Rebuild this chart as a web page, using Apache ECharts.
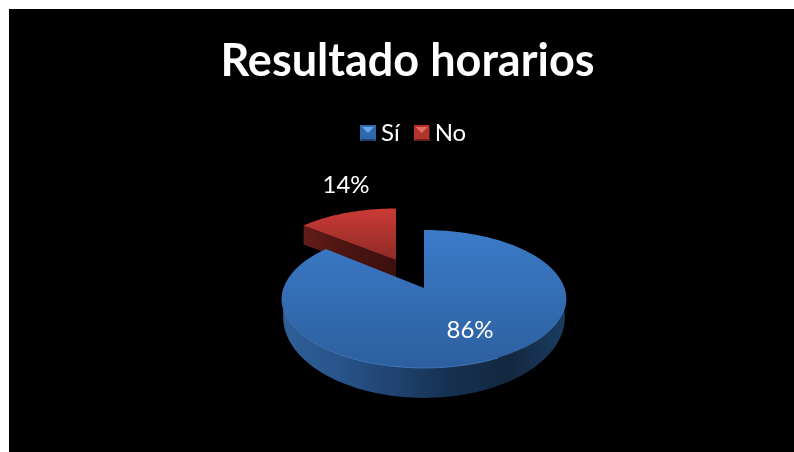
<!DOCTYPE html>
<html>
<head>
<meta charset="utf-8">
<style>
  html, body { margin: 0; padding: 0; background: #fff; }
  #chart { width: 794px; height: 452px; }
</style>
<script src="https://cdn.jsdelivr.net/npm/echarts@6/dist/echarts.min.js"></script>
</head>
<body>
<div id="chart"></div>
<script>
const chartTitle = 'Resultado horarios'
const categories = ['Sí', 'No']
const values = [86, 14]

const total = values.reduce((a, b) => a + b, 0)
const PERSPECTIVE = 0.159

function vGrad(a, b) {
  return new echarts.graphic.LinearGradient(0, 0, 0, 1, [
    { offset: 0, color: a }, { offset: 1, color: b }
  ])
}
function hGrad(stops) {
  return new echarts.graphic.LinearGradient(0, 0, 1, 0,
    stops.map((c, i) => ({ offset: i / (stops.length - 1), color: c })))
}

// one look per slice, the tilt of the pie is a real projection of the circle
const looks = [
  {
    cx: 424, cy: 288, a: 140.5, b: 67.2, depth: 16, baseA: 0.99, baseB: 1.175,
    top: vGrad('#3b7bc8', '#2d5f9f'),
    wall: hGrad(['#2f6098', '#28548a', '#1f4270', '#16304f', '#132840', '#1c3c62']),
    label: [470, 330]
  },
  {
    cx: 396, cy: 260, a: 132, b: 59.7, depth: 19, baseA: 1, baseB: 1,
    top: vGrad('#cb3a35', '#8f2b27'),
    wall: hGrad(['#641c17', '#4a1411', '#3c100e']),
    label: [346, 185]
  }
]

function rim(look, t, dy, scaleA, scaleB) {
  const u = Math.sin(t)
  const v = Math.cos(t)
  const w = 1 + PERSPECTIVE * v
  return [
    look.cx + look.a * scaleA * u / w,
    look.cy + dy - look.b * scaleB * v / w
  ]
}

function arc(look, from, to, dy, scaleA, scaleB) {
  const pts = []
  const n = 90
  for (let i = 0; i <= n; i++) {
    pts.push(rim(look, from + (to - from) * i / n, dy, scaleA, scaleB))
  }
  return pts
}

function renderSlice(params, api) {
  const idx = params.seriesIndex
  const look = looks[idx]
  const before = values.slice(0, idx).reduce((a, b) => a + b, 0)
  const start = before / total * Math.PI * 2
  const end = start + api.value(0) / total * Math.PI * 2
  const children = []

  if (idx === 0) {
    // outer wall, only the part that faces the viewer
    const from = Math.PI * 0.5
    const to = Math.min(end, Math.PI * 1.5)
    const upper = arc(look, from, to, 0, 1, 1)
    const lower = arc(look, from, to, look.depth, look.baseA, look.baseB).reverse()
    children.push({
      type: 'polygon',
      shape: { points: upper.concat(lower) },
      style: { fill: look.wall }
    })
  } else {
    // cut face of the pulled out slice
    const a = rim(look, start, 0, 1, 1)
    children.push({
      type: 'polygon',
      shape: { points: [a, [look.cx, look.cy], [look.cx, look.cy + look.depth], [a[0], a[1] + look.depth]] },
      style: { fill: look.wall }
    })
  }

  children.push({
    type: 'polygon',
    shape: { points: [[look.cx, look.cy]].concat(arc(look, start, end, 0, 1, 1)) },
    style: { fill: look.top }
  })

  if (idx === 0) {
    children.push({
      type: 'polyline',
      shape: { points: arc(look, Math.PI * 0.85, Math.PI * 1.4, 0, 1, 1) },
      style: { stroke: '#4079bd', lineWidth: 1, fill: 'none' }
    })
  }

  children.push({
    type: 'text',
    style: {
      text: Math.round(api.value(0) / total * 100) + '%',
      x: look.label[0],
      y: look.label[1],
      fill: '#fff',
      font: '24px Lato',
      align: 'center',
      verticalAlign: 'middle'
    }
  })
  return { type: 'group', children }
}

function bevelIcon(light, mid, dark) {
  const svg = '<svg xmlns="http://www.w3.org/2000/svg" width="16" height="16">' +
    '<rect width="16" height="16" fill="' + mid + '"/>' +
    '<path d="M2 2H14L8 8Z" fill="' + light + '"/>' +
    '<path d="M0 16H16L14 14H2Z" fill="' + dark + '"/></svg>'
  return 'image://data:image/svg+xml;charset=utf-8,' + encodeURIComponent(svg)
}
const legendIcons = [
  bevelIcon('#63a9ea', '#2f68ab', '#1d4170'),
  bevelIcon('#e86b63', '#b0332e', '#6e1f1b')
]
const legendColors = ['#2f68ab', '#b0332e']

const chart = echarts.init(document.getElementById('chart'), null, { renderer: 'canvas' })
chart.setOption({
  animation: false,
  backgroundColor: '#fff',
  title: {
    text: chartTitle,
    left: 402.5,
    top: 34,
    textAlign: 'center',
    textStyle: { color: '#fff', fontFamily: 'Lato', fontWeight: 'bold', fontSize: 45 }
  },
  legend: {
    left: 355,
    top: 116,
    itemWidth: 16,
    itemHeight: 16,
    itemGap: 14,
    textStyle: { color: '#fff', fontFamily: 'Lato', fontSize: 24, padding: [0, 0, 0, 0] },
    data: categories.map((name, i) => ({ name, icon: legendIcons[i] }))
  },
  graphic: [{
    type: 'rect',
    z: -10,
    silent: true,
    shape: { x: 9, y: 9, width: 785, height: 443 },
    style: { fill: '#000' }
  }],
  series: categories.map((name, i) => ({
    name,
    type: 'custom',
    coordinateSystem: 'none',
    z: i === 0 ? 3 : 2,
    itemStyle: { color: legendColors[i] },
    data: [[values[i]]],
    renderItem: renderSlice
  }))
})
</script>
</body>
</html>
